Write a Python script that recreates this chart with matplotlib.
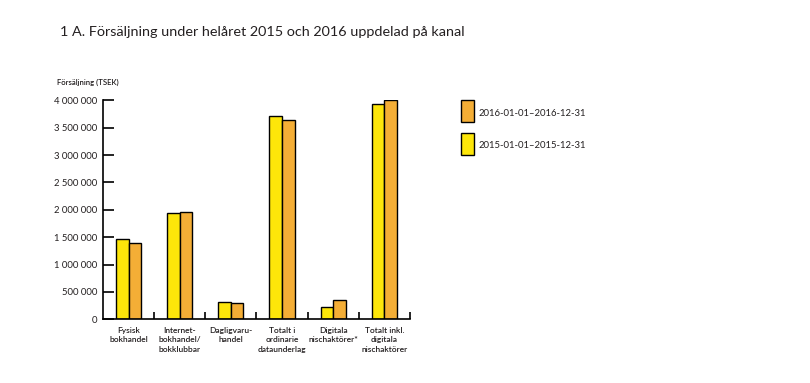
import matplotlib
matplotlib.use('Agg')
import matplotlib.pyplot as plt
from matplotlib import font_manager
from matplotlib.patches import Rectangle
import numpy as np

names = {f.name for f in font_manager.fontManager.ttflist}
narrow = 'Liberation Sans Narrow' if 'Liberation Sans Narrow' in names else 'Lato'
plt.rcParams['font.family'] = ['Lato', 'DejaVu Sans']

categories = ['Fysisk\nbokhandel', 'Internet-\nbokhandel/\nbokklubbar', 'Dagligvaru-\nhandel',
              'Totalt i\nordinarie\ndataunderlag', 'Digitala\nnischaktörer*', 'Totalt inkl.\ndigitala\nnischaktörer']
sales_2015 = [1461000, 1936000, 316000, 3713000, 219000, 3927000]
sales_2016 = [1388000, 1954000, 298000, 3635000, 352000, 4000000]
yticks = [0, 500000, 1000000, 1500000, 2000000, 2500000, 3000000, 3500000, 4000000]
label_2015 = '2015-01-01\u20132015-12-31'
label_2016 = '2016-01-01\u20132016-12-31'

yellow = '#FDE60A'
orange = '#F4AE36'
txt = '#231F20'

fig = plt.figure(figsize=(8.1, 3.83), dpi=100)
ax = fig.add_axes([0.1272, 0.1663, 0.3788, 0.5717])

x = np.arange(len(categories))
w = 0.245
ax.bar(x - w / 2, sales_2015, w, color=yellow, edgecolor='black', linewidth=1)
ax.bar(x + w / 2, sales_2016, w, color=orange, edgecolor='black', linewidth=1)

ax.set_xlim(-0.5, 5.5)
ax.set_ylim(0, 4000000)
ax.spines['top'].set_visible(False)
ax.spines['right'].set_visible(False)
ax.spines['left'].set_linewidth(1.2)
ax.spines['bottom'].set_linewidth(1.2)

ax.set_yticks(yticks)
ax.set_yticklabels([f'{v:,}'.replace(',', ' ') for v in yticks], fontsize=6.8, color=txt)
ax.tick_params(axis='y', direction='in', length=8, width=1.2, pad=4)
ax.set_xticks(np.arange(0.5, 6, 1))
ax.set_xticklabels([])
ax.tick_params(axis='x', direction='in', length=5, width=1.2)

for i, lab in enumerate(categories):
    ax.text(i, -140000, lab, ha='center', va='top', fontsize=6, color=txt, weight='semibold',
            family=[narrow, 'DejaVu Sans'], linespacing=1.4)

fig.text(57 / 810, 1 - 82 / 383, 'Försäljning (TSEK)', fontsize=5.6, ha='left', va='center',
         family=[narrow, 'DejaVu Sans'], color=txt, weight='semibold')
fig.text(60 / 810, 1 - 32 / 383, '1 A. Försäljning under helåret 2015 och 2016 uppdelad på kanal',
         fontsize=10.4, ha='left', va='center', color=txt)

# legend
for y0, col, lab in [(100, orange, label_2016), (133, yellow, label_2015)]:
    fig.patches.append(Rectangle((461 / 810, 1 - (y0 + 22) / 383), 13 / 810, 22 / 383,
                                 transform=fig.transFigure, facecolor=col, edgecolor='black', linewidth=1))
    fig.text(479 / 810, 1 - (y0 + 13) / 383, lab, fontsize=6.8, ha='left', va='center', color=txt)

fig.savefig('out.png', dpi=100)
